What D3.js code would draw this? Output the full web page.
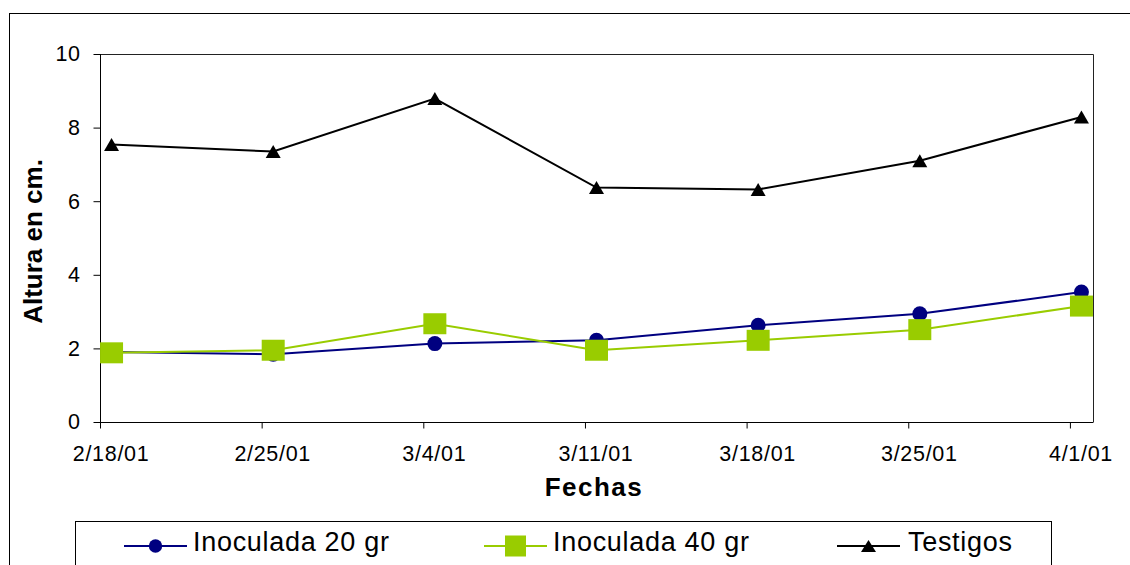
<!DOCTYPE html>
<html>
<head>
<meta charset="utf-8">
<script src="https://cdn.jsdelivr.net/npm/d3@7"></script>
<style>
  html, body { margin: 0; padding: 0; background: #fff; }
  svg { display: block; font-family: "Liberation Sans", Arial, sans-serif; }
</style>
</head>
<body>
<svg id="chart" width="1130" height="565"></svg>
<script>
// Weekly measurement dates
const fechas = ["2001-02-18", "2001-02-25", "2001-03-04", "2001-03-11", "2001-03-18", "2001-03-25", "2001-04-01"];

// Plant height (cm) per treatment
const inoculada20 = [1.90, 1.84, 2.13, 2.22, 2.63, 2.94, 3.53];
const inoculada40 = [1.88, 1.95, 2.67, 1.95, 2.22, 2.51, 3.15];
const testigos    = [7.54, 7.35, 8.79, 6.37, 6.32, 7.10, 8.29];

const yTicks = [0, 2, 4, 6, 8, 10];
const seriesNames = ["Inoculada 20 gr", "Inoculada 40 gr", "Testigos"];

const parse = d3.timeParse("%Y-%m-%d");
const fmt = d3.timeFormat("%-m/%-d/%y");
const dates = fechas.map(parse);
const DAY = 24 * 3600 * 1000;

const svg = d3.select("#chart");

// Outer chart frame
svg.append("rect")
  .attr("x", 9.5).attr("y", 13.5)
  .attr("width", 1200).attr("height", 700)
  .attr("fill", "#fff").attr("stroke", "#000").attr("stroke-width", 1);

const plot = { left: 100, right: 1093, top: 54, bottom: 422 };

// Date axis: each day is a slot, points sit in the middle of their day
const x = d3.scaleTime()
  .domain([dates[0], new Date(+dates[dates.length - 1] + DAY)])
  .range([plot.left, plot.right]);
const mid = d => x(new Date(+d + DAY / 2));
const halfDay = x(new Date(+dates[0] + DAY / 2)) - x(dates[0]);

const y = d3.scaleLinear().domain([0, 10]).range([plot.bottom, plot.top]);

// Plot area border (top and right)
svg.append("path")
  .attr("d", `M${plot.left},${plot.top + 0.5}H${plot.right + 0.5}V${plot.bottom}`)
  .attr("fill", "none").attr("stroke", "#222").attr("stroke-width", 1);

// Y axis
const yAxis = svg.append("g")
  .attr("transform", `translate(${plot.left + 0.5},0)`)
  .call(d3.axisLeft(y).tickValues(yTicks).tickSize(7).tickPadding(13).tickFormat(d3.format("d")));
yAxis.select(".domain").attr("stroke", "#000").attr("d", `M0,${plot.top}V${plot.bottom + 0.5}`);
yAxis.selectAll(".tick line").attr("stroke", "#000");
yAxis.selectAll(".tick text")
  .attr("font-size", 21.5).attr("fill", "#000").attr("letter-spacing", 0.5)
  .attr("font-family", "Liberation Sans, Arial, sans-serif");

// X axis
const xAxis = svg.append("g")
  .attr("transform", `translate(0,${plot.bottom + 0.5})`)
  .call(d3.axisBottom(x).tickValues(dates).tickSize(6).tickPadding(17).tickFormat(fmt));
xAxis.select(".domain").attr("stroke", "#000").attr("d", `M${plot.left},0H${plot.right + 0.5}`);
xAxis.selectAll(".tick line").attr("stroke", "#000");
xAxis.selectAll(".tick text")
  .attr("x", halfDay - 1)
  .attr("font-size", 21.5).attr("fill", "#000").attr("letter-spacing", 0.7)
  .attr("font-family", "Liberation Sans, Arial, sans-serif");

// Axis titles
svg.append("text")
  .attr("transform", "translate(42,241.5) rotate(-90)")
  .attr("text-anchor", "middle")
  .attr("font-weight", "bold").attr("font-size", 26)
  .text("Altura en cm.");

svg.append("text")
  .attr("x", 594).attr("y", 495.5)
  .attr("text-anchor", "middle")
  .attr("font-weight", "bold").attr("font-size", 26)
  .attr("letter-spacing", 1.5)
  .text("Fechas");

// Marker shapes
const triPath = (w, h) => `M0,${-h / 2}L${w / 2},${h / 2}L${-w / 2},${h / 2}Z`;

function drawMarker(g, kind, cx, cy, legend) {
  if (kind === "circle") {
    g.append("circle").attr("cx", cx).attr("cy", cy)
      .attr("r", legend ? 6.7 : 7.5).attr("fill", "#000080");
  } else if (kind === "square") {
    const w = legend ? 21 : 23, h = 21;
    g.append("rect").attr("x", cx - w / 2).attr("y", cy - h / 2)
      .attr("width", w).attr("height", h).attr("fill", "#99CC00");
  } else {
    g.append("path").attr("transform", `translate(${cx},${cy})`)
      .attr("d", legend ? triPath(15, 12) : triPath(15, 13)).attr("fill", "#000");
  }
}

const series = [
  { name: seriesNames[0], values: inoculada20, color: "#000080", marker: "circle" },
  { name: seriesNames[1], values: inoculada40, color: "#99CC00", marker: "square" },
  { name: seriesNames[2], values: testigos,    color: "#000000", marker: "triangle" }
];

const line = d3.line().x((d, i) => mid(dates[i])).y(d => y(d));

series.forEach(s => {
  const g = svg.append("g");
  g.append("path")
    .attr("d", line(s.values))
    .attr("fill", "none").attr("stroke", s.color).attr("stroke-width", 2);
  s.values.forEach((v, i) => drawMarker(g, s.marker, mid(dates[i]), y(v), false));
});

// Legend
const legend = svg.append("g");
legend.append("rect")
  .attr("x", 75.5).attr("y", 521.5)
  .attr("width", 976).attr("height", 100)
  .attr("fill", "#fff").attr("stroke", "#000").attr("stroke-width", 1);

const legendX = [124, 484, 837];
const ly = 546;
series.forEach((s, i) => {
  const lx = legendX[i];
  legend.append("line")
    .attr("x1", lx).attr("x2", lx + 63).attr("y1", ly).attr("y2", ly)
    .attr("stroke", s.color).attr("stroke-width", 2);
  drawMarker(legend, s.marker, lx + 31.5, ly, true);
  legend.append("text")
    .attr("x", lx + 69 + (i === 2 ? 2 : 0)).attr("y", 551)
    .attr("font-size", 27).attr("letter-spacing", 0.7).attr("fill", "#000")
    .text(s.name);
});
</script>
</body>
</html>
